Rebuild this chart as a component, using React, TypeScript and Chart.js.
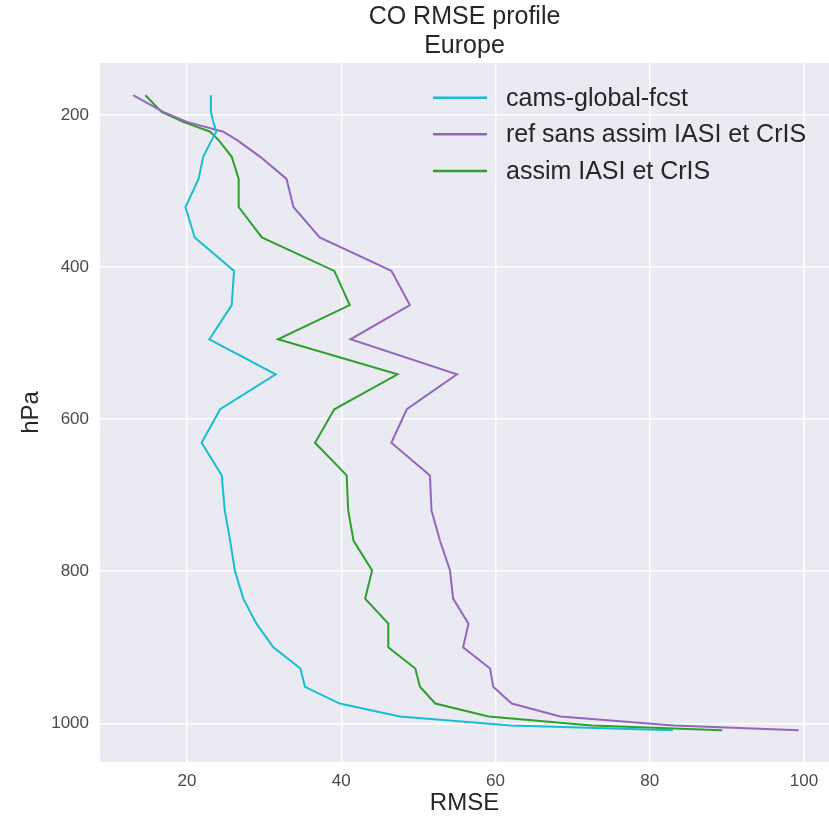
import React, { useEffect, useRef } from "react";
import { Chart, registerables } from "chart.js";

Chart.register(...registerables);

const pressureLevels = [174, 196, 209, 222, 233, 255, 284, 321, 361, 405, 450, 495, 541, 587, 631, 674, 720, 760, 799, 836, 869, 900, 928, 952, 974, 991, 1003, 1009];
const camsGlobalFcst = [23.1, 23.1, 23.4, 23.8, 23.2, 22.1, 21.5, 19.8, 21.0, 26.1, 25.8, 22.9, 31.5, 24.3, 21.9, 24.5, 24.9, 25.6, 26.2, 27.3, 29.0, 31.2, 34.7, 35.3, 39.8, 47.6, 62.0, 83.0];
const refSansAssim = [13.0, 16.9, 20.0, 24.7, 26.5, 29.5, 32.9, 33.8, 37.2, 46.5, 48.9, 41.2, 55.0, 48.5, 46.5, 51.5, 51.7, 52.8, 54.1, 54.5, 56.5, 55.8, 59.3, 59.7, 62.1, 68.4, 83.1, 99.3];
const assimIasiCris = [14.6, 16.7, 19.5, 23.0, 24.1, 25.8, 26.7, 26.7, 29.7, 39.1, 41.1, 31.8, 47.3, 39.1, 36.6, 40.7, 40.9, 41.6, 44.0, 43.1, 46.1, 46.1, 49.6, 50.2, 52.2, 59.1, 72.5, 89.4];

const seriesLabels = ["cams-global-fcst", "ref sans assim IASI et CrIS", "assim IASI et CrIS"];
const seriesColors = ["#17becf", "#9467bd", "#2ca02c"];
const xTicks = [20, 40, 60, 80, 100];
const yTicks = [200, 400, 600, 800, 1000];
const titleLines = ["CO RMSE profile", "Europe"];

const FONT = "'Liberation Sans', Arial, Helvetica, sans-serif";
const TEXT = "#262626";

const bgPlugin = {
  id: "bgPlugin",
  beforeDraw(chart: any) {
    const { ctx, chartArea } = chart;
    ctx.save();
    ctx.fillStyle = "#eaeaf2";
    ctx.fillRect(chartArea.left, chartArea.top, chartArea.right - chartArea.left, chartArea.bottom - chartArea.top);
    ctx.restore();
  },
};

const titlePlugin = {
  id: "plotTitle",
  afterDraw(chart: any) {
    const { ctx, chartArea } = chart;
    const cx = (chartArea.left + chartArea.right) / 2;
    ctx.save();
    ctx.fillStyle = TEXT;
    ctx.font = `25px ${FONT}`;
    ctx.textAlign = "center";
    ctx.textBaseline = "middle";
    titleLines.forEach((t, i) => {
      ctx.fillText(t, cx, 17 + i * 29);
    });
    ctx.restore();
  },
};

const legendPlugin = {
  id: "customLegend",
  afterDatasetsDraw(chart: any) {
    const { ctx, chartArea } = chart;
    const x0 = chartArea.left + 333;
    const lineLen = 54;
    const textX = chartArea.left + 406;
    const y0 = chartArea.top + 34.7;
    const dy = 36.6;
    ctx.save();
    chart.data.datasets.forEach((ds: any, i: number) => {
      const y = y0 + i * dy;
      ctx.strokeStyle = ds.borderColor;
      ctx.lineWidth = 2.5;
      ctx.beginPath();
      ctx.moveTo(x0, y);
      ctx.lineTo(x0 + lineLen, y);
      ctx.stroke();
      ctx.fillStyle = TEXT;
      ctx.font = `25px ${FONT}`;
      ctx.textBaseline = "middle";
      ctx.textAlign = "left";
      ctx.fillText(ds.label, textX, y + 1);
    });
    ctx.restore();
  },
};

export default function App() {
  const ref = useRef<HTMLCanvasElement | null>(null);
  useEffect(() => {
    if (!ref.current) return;
    const mk = (vals: number[]) => vals.map((v, i) => ({ x: v, y: pressureLevels[i] }));
    const datasets = [camsGlobalFcst, refSansAssim, assimIasiCris].map((vals, i) => ({
      label: seriesLabels[i],
      data: mk(vals),
      borderColor: seriesColors[i],
      backgroundColor: seriesColors[i],
      borderWidth: 2,
      pointRadius: 0,
      tension: 0,
      fill: false,
    }));
    const chart = new Chart(ref.current, {
      type: "line",
      data: { datasets },
      plugins: [bgPlugin, legendPlugin, titlePlugin],
      options: {
        animation: false,
        responsive: true,
        maintainAspectRatio: false,
        indexAxis: "y",
        layout: { padding: { left: 0, right: 0, top: 63, bottom: 0 } },
        plugins: {
          legend: { display: false },
          tooltip: { enabled: false },
          title: { display: false },
        },
        scales: {
          x: {
            type: "linear",
            position: "bottom",
            min: 8.72,
            max: 103.24,
            afterBuildTicks: (s: any) => {
              s.ticks = xTicks.map((v) => ({ value: v }));
            },
            afterFit: (s: any) => {
              s.height = 56;
            },
            grid: { color: "#ffffff", lineWidth: 1.5, drawTicks: false },
            border: { display: false },
            ticks: {
              color: "#4a4a4a",
              padding: 9,
              font: { family: FONT, size: 17 },
              callback: (v: any) => String(v),
            },
            title: {
              display: true,
              text: "RMSE",
              color: TEXT,
              font: { family: FONT, size: 24, lineHeight: 1.2 },
              padding: { top: 0, bottom: 0 },
            },
          },
          y: {
            type: "linear",
            reverse: true,
            min: 131.6,
            max: 1050.9,
            afterBuildTicks: (s: any) => {
              s.ticks = yTicks.map((v) => ({ value: v }));
            },
            afterFit: (s: any) => {
              s.width = 100;
            },
            grid: { color: "#ffffff", lineWidth: 1.5, drawTicks: false },
            border: { display: false },
            ticks: {
              color: "#4a4a4a",
              padding: 11,
              font: { family: FONT, size: 17 },
              callback: (v: any) => String(v),
            },
            title: {
              display: true,
              text: "hPa",
              color: TEXT,
              font: { family: FONT, size: 24, lineHeight: 1.2 },
              padding: { top: 16.6, bottom: 0 },
            },
          },
        },
      } as any,
    });
    return () => chart.destroy();
  }, []);
  return (
    <div style={{ position: "absolute", left: 0, top: 0, width: 829, height: 818, background: "#fff" }}>
      <canvas ref={ref} />
    </div>
  );
}
